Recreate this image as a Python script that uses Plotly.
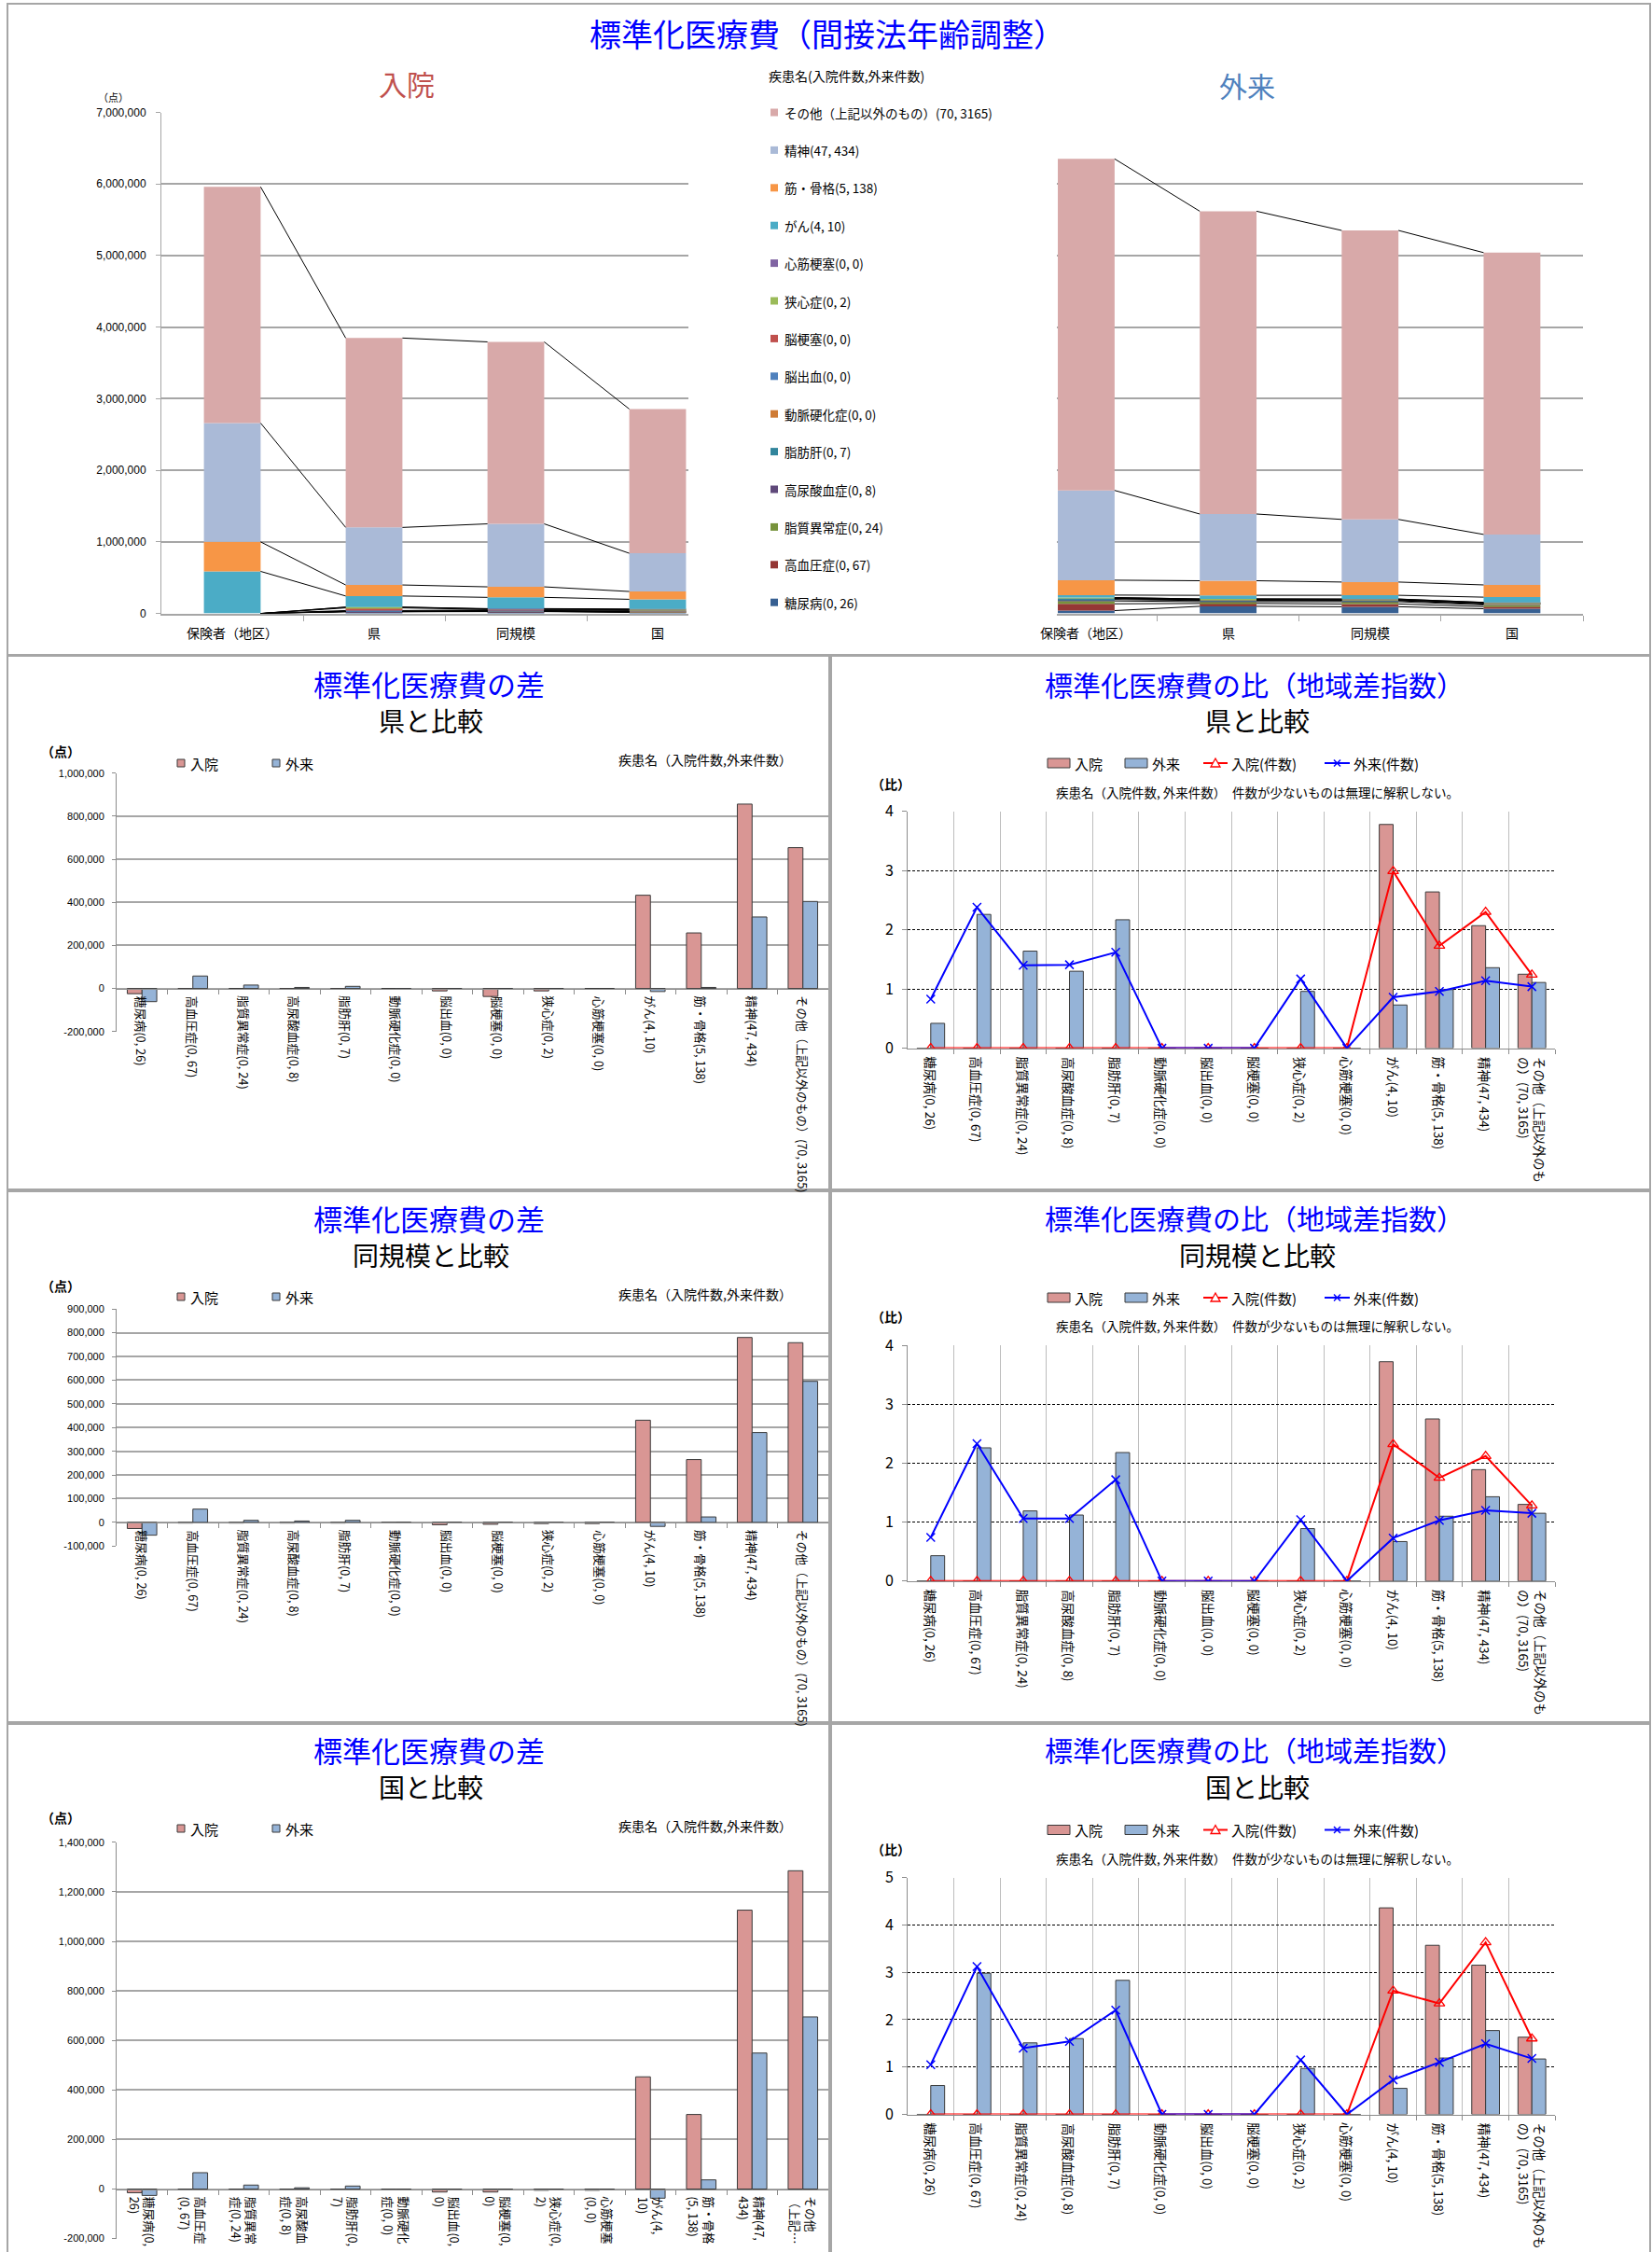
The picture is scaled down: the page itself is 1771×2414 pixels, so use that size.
import plotly.graph_objects as go

W, H = 1771, 2414
FONT = "Noto Sans CJK JP"
NUMFONT = "Liberation Sans"

# ---------------- data ----------------
regions = ["保険者（地区）", "県", "同規模", "国"]
diseases = ["糖尿病", "高血圧症", "脂質異常症", "高尿酸血症", "脂肪肝", "動脈硬化症", "脳出血",
            "脳梗塞", "狭心症", "心筋梗塞", "がん", "筋・骨格", "精神", "その他（上記以外のもの）"]
in_counts = [0, 0, 0, 0, 0, 0, 0, 0, 0, 0, 4, 5, 47, 70]
out_counts = [26, 67, 24, 8, 7, 0, 0, 0, 2, 0, 10, 138, 434, 3165]

# standardized cost (入院) per region, diseases bottom -> top
nyuin_hokensha = [0, 0, 0, 0, 0, 0, 0, 0, 0, 0, 588000, 412000, 1660000, 3300000]
nyuin_ken = [24000, 2000, 0, 2000, 2000, 0, 11000, 37000, 11000, 0, 155000, 154000, 804000, 2646000]
nyuin_doukibo = [26000, 3000, 3000, 3000, 3000, 2000, 10000, 8000, 5000, 5000, 157000, 147000, 880000, 2542000]
nyuin_kuni = [15000, 3000, 3000, 3000, 3000, 2000, 12000, 12000, 5000, 5000, 135000, 109000, 534000, 2015000]
# standardized cost (外来)
gairai_hokensha = [40000, 95000, 40000, 20000, 17000, 0, 0, 0, 10000, 0, 35000, 208000, 1254000, 4632000]
gairai_ken = [100000, 40000, 25000, 15000, 8000, 1500, 1500, 1500, 11000, 0, 50000, 204000, 932000, 4230000]
gairai_doukibo = [94000, 39000, 31000, 14000, 8000, 1000, 1000, 1000, 12000, 1000, 52000, 185000, 875000, 4037000]
gairai_kuni = [66000, 29000, 24000, 15000, 5000, 1500, 1500, 1500, 11000, 1500, 72000, 171000, 705000, 3937000]

# differences
sa_ken_nyuin = [-24000, -2000, 0, -2000, -2000, 0, -11000, -37000, -11000, 0, 433000, 258000, 856000, 654000]
sa_ken_gairai = [-61000, 58000, 16000, 5000, 10000, -1500, -1500, -1500, -1500, 0, -14000, 5000, 332000, 404000]
sa_doukibo_nyuin = [-26000, -3000, -3000, -3000, -3000, -2000, -10000, -8000, -5000, -5000, 431000, 265000, 780000, 758000]
sa_doukibo_gairai = [-54000, 56000, 8600, 5700, 8600, -1000, -1000, -1000, -2000, -1000, -17000, 23000, 379000, 595000]
sa_kuni_nyuin = [-15000, -3000, -3000, -3000, -3000, -2000, -12000, -12000, -5000, -5000, 453000, 301000, 1126000, 1285000]
sa_kuni_gairai = [-26000, 66000, 16000, 5000, 12000, -1500, -1500, -1500, -1500, -1500, -37000, 37000, 549000, 695000]

# ratios
hi_ken_nyuin = [0, 0, 0, 0, 0, 0, 0, 0, 0, 0, 3.78, 2.64, 2.07, 1.25]
hi_ken_gairai = [0.42, 2.26, 1.64, 1.30, 2.17, 0, 0, 0, 0.96, 0, 0.73, 0.99, 1.36, 1.11]
hi_ken_nyuin_kensu = [0, 0, 0, 0, 0, 0, 0, 0, 0, 0, 2.99, 1.73, 2.30, 1.24]
hi_ken_gairai_kensu = [0.83, 2.38, 1.40, 1.41, 1.62, 0, 0, 0, 1.17, 0, 0.86, 0.96, 1.14, 1.04]

hi_doukibo_nyuin = [0, 0, 0, 0, 0, 0, 0, 0, 0, 0, 3.72, 2.75, 1.89, 1.30]
hi_doukibo_gairai = [0.43, 2.26, 1.19, 1.12, 2.18, 0, 0, 0, 0.89, 0, 0.67, 1.10, 1.43, 1.15]
hi_doukibo_nyuin_kensu = [0, 0, 0, 0, 0, 0, 0, 0, 0, 0, 2.32, 1.75, 2.12, 1.28]
hi_doukibo_gairai_kensu = [0.74, 2.33, 1.06, 1.06, 1.72, 0, 0, 0, 1.04, 0, 0.73, 1.03, 1.20, 1.15]

hi_kuni_nyuin = [0, 0, 0, 0, 0, 0, 0, 0, 0, 0, 4.36, 3.57, 3.15, 1.63]
hi_kuni_gairai = [0.61, 2.98, 1.51, 1.60, 2.83, 0, 0, 0, 0.97, 0, 0.55, 1.19, 1.77, 1.17]
hi_kuni_nyuin_kensu = [0, 0, 0, 0, 0, 0, 0, 0, 0, 0, 2.61, 2.34, 3.63, 1.60]
hi_kuni_gairai_kensu = [1.05, 3.12, 1.40, 1.54, 2.20, 0, 0, 0, 1.15, 0, 0.73, 1.10, 1.49, 1.18]

labels_kuni_diff = ["糖尿病(0,<br>26)", "高血圧症<br>(0, 67)", "脂質異常<br>症(0, 24)", "高尿酸血<br>症(0, 8)",
                    "脂肪肝(0,<br>7)", "動脈硬化<br>症(0, 0)", "脳出血(0,<br>0)", "脳梗塞(0,<br>0)",
                    "狭心症(0,<br>2)", "心筋梗塞<br>(0, 0)", "がん(4,<br>10)", "筋・骨格<br>(5, 138)",
                    "精神(47,<br>434)", "その他<br>（上記…"]

# ---------------- styles ----------------
stack_colors = ["#376092", "#953735", "#77933C", "#5F497A", "#31859C", "#CF7B35", "#4F81BD",
                "#C0504D", "#9BBB59", "#8064A2", "#4BACC6", "#F79646", "#AABAD7", "#D8A9A9"]
C_IN = "#D99694"
C_OUT = "#95B3D7"
C_EDGE = "#3A3A3A"
GRID = "#A6A6A6"
AXL = "#8C8C8C"

full_labels = [f"{d}({a}, {b})" for d, a, b in zip(diseases, in_counts, out_counts)]
ratio_labels = full_labels[:-1] + ["その他（上記以外のも<br>の）(70, 3165)"]


def X(px):
    return px / W


def Y(py):
    return 1 - py / H


fig = go.Figure()
layout = dict(width=W, height=H, margin=dict(l=0, r=0, t=0, b=0, pad=0, autoexpand=False),
              paper_bgcolor="white", plot_bgcolor="white", showlegend=False,
              barmode="overlay", font=dict(family=FONT, color="black"))
annotations = []
shapes = []


def ann(text, x, y, size, color="black", xanchor="center", yanchor="middle", xref="paper", yref="paper", **kw):
    annotations.append(dict(text=text, x=x, y=y, xref=xref, yref=yref, xanchor=xanchor, yanchor=yanchor,
                            showarrow=False, font=dict(family=FONT, size=size, color=color), **kw))


def axid(i):
    return ("x" if i == 1 else f"x{i}"), ("y" if i == 1 else f"y{i}")


def axkey(i):
    return ("xaxis" if i == 1 else f"xaxis{i}"), ("yaxis" if i == 1 else f"yaxis{i}")


def fmt(v):
    return f"{int(v):,}"


# ---------------- top stacked charts ----------------
def add_stack(i, region_data, xdom, xrange_, show_y):
    xr, yr = axid(i)
    xk, yk = axkey(i)
    cum = [0, 0, 0, 0]
    tops = []
    for k in range(len(diseases)):
        vals = [region_data[j][k] for j in range(4)]
        fig.add_trace(go.Bar(x=[0, 1, 2, 3], y=vals, base=cum[:], width=0.4, offset=-0.2,
                             marker=dict(color=stack_colors[k], line=dict(width=0)),
                             xaxis=xr, yaxis=yr, hoverinfo="skip"))
        cum = [c + v for c, v in zip(cum, vals)]
        tops.append(cum[:])
    for k in range(len(diseases)):
        xs, ys = [], []
        for j in range(3):
            xs += [j + 0.2, j + 0.8, None]
            ys += [tops[k][j], tops[k][j + 1], None]
        fig.add_trace(go.Scatter(x=xs, y=ys, mode="lines", line=dict(color="black", width=1),
                                 xaxis=xr, yaxis=yr, hoverinfo="skip"))
    ticks = list(range(0, 7000001, 1000000))
    layout[xk] = dict(domain=[X(xdom[0]), X(xdom[1])], range=xrange_, anchor=yr,
                      tickvals=[0.5, 1.5, 2.5, 3.5], ticks="outside", ticklen=6, tickcolor=GRID,
                      showticklabels=False, showline=True, linecolor=GRID, linewidth=2,
                      showgrid=False, zeroline=False, fixedrange=True)
    layout[yk] = dict(domain=[Y(657.6), Y(120.5)], range=[0, 7000000], anchor=xr,
                      tickvals=ticks, ticktext=[fmt(t) for t in ticks],
                      showticklabels=show_y, ticks="outside" if show_y else "", ticklen=5, tickcolor=GRID,
                      tickfont=dict(family=NUMFONT, size=12), ticklabelstandoff=8,
                      showline=show_y, linecolor=GRID, linewidth=1,
                      showgrid=True, gridcolor=GRID, gridwidth=1.5, zeroline=False)
    for j, r in enumerate(regions):
        ann(r, j, Y(678), 14, xref=xr)


add_stack(1, [nyuin_hokensha, nyuin_ken, nyuin_doukibo, nyuin_kuni], (173, 738), [-0.5, 3.217], True)
add_stack(2, [gairai_hokensha, gairai_ken, gairai_doukibo, gairai_kuni], (1132.5, 1697), [-0.21, 3.5], False)

ann("標準化医療費（間接法年齢調整）", X(887), Y(36), 34, color="#0000FF")
ann("入院", X(436), Y(89), 30, color="#C0504D")
ann("外来", X(1337), Y(91), 30, color="#4F81BD")
ann("（点）", X(121), Y(104), 11)
ann("疾患名(入院件数,外来件数)", X(822), Y(81), 14, xanchor="left")
for idx, k in enumerate(range(len(diseases) - 1, -1, -1)):
    yc = 120.5 + idx * 40.4
    shapes.append(dict(type="rect", xref="paper", yref="paper", x0=X(826), x1=X(834), y0=Y(yc + 4), y1=Y(yc - 4),
                       fillcolor=stack_colors[k], line=dict(width=0)))
    ann(full_labels[k], X(839), Y(yc), 13.5, xanchor="left")


# ---------------- difference charts ----------------
def add_diff(i, nyuin, gairai, top, bottom, rng, dtick, labels, sub, ys):
    xr, yr = axid(i)
    xk, yk = axkey(i)
    cats = list(range(len(diseases)))
    fig.add_trace(go.Bar(x=cats, y=nyuin, offset=-0.29, width=0.29,
                         marker=dict(color=C_IN, line=dict(color=C_EDGE, width=1)),
                         xaxis=xr, yaxis=yr, hoverinfo="skip"))
    fig.add_trace(go.Bar(x=cats, y=gairai, offset=0.0, width=0.29,
                         marker=dict(color=C_OUT, line=dict(color=C_EDGE, width=1)),
                         xaxis=xr, yaxis=yr, hoverinfo="skip"))
    zero_px = top + (rng[1] - 0) / (rng[1] - rng[0]) * (bottom - top)
    layout[xk] = dict(domain=[X(125), X(888)], range=[-0.5, 13.5], anchor="free", position=Y(zero_px),
                      tickvals=[k + 0.5 for k in range(13)], ticks="outside", ticklen=5, tickcolor=AXL,
                      showticklabels=False, showline=True, linecolor=AXL, linewidth=1,
                      showgrid=False, zeroline=False)
    tv = list(range(rng[0], rng[1] + 1, dtick))
    layout[yk] = dict(domain=[Y(bottom), Y(top)], range=rng, anchor=xr,
                      tickvals=tv, ticktext=[fmt(t) for t in tv],
                      ticks="outside", ticklen=4, tickcolor=AXL,
                      tickfont=dict(family=NUMFONT, size=11), ticklabelstandoff=6,
                      showline=True, linecolor=AXL, linewidth=1,
                      showgrid=True, gridcolor=GRID, gridwidth=1.5, zeroline=False)
    for k, lab in enumerate(labels):
        ann(lab, k, 0, 12.8, xref=xr, yref=yr, yanchor="top", textangle=90, yshift=-6, align="left")
    t_title, t_sub, t_unit, t_leg, t_note = ys
    ann("標準化医療費の差", X(460), Y(t_title), 31, color="#0000FF")
    ann(sub, X(462), Y(t_sub), 28)
    ann("<b>（点）</b>", X(65), Y(t_unit), 14)
    for x0, col, txt in [(190, C_IN, "入院"), (292, C_OUT, "外来")]:
        shapes.append(dict(type="rect", xref="paper", yref="paper", x0=X(x0), x1=X(x0 + 8),
                           y0=Y(t_leg + 4), y1=Y(t_leg - 4), fillcolor=col, line=dict(color=C_EDGE, width=1)))
        ann(txt, X(x0 + 12), Y(t_leg), 15, xanchor="left")
    ann("疾患名（入院件数,外来件数）", X(756), Y(t_note), 14)


add_diff(3, sa_ken_nyuin, sa_ken_gairai, 828.7, 1105.8, [-200000, 1000000], 200000, full_labels,
         "県と比較", (733, 772, 805, 818, 814))
add_diff(5, sa_doukibo_nyuin, sa_doukibo_gairai, 1403.2, 1657.3, [-100000, 900000], 100000, full_labels,
         "同規模と比較", (1305, 1345, 1378, 1390, 1387))
add_diff(7, sa_kuni_nyuin, sa_kuni_gairai, 1974.8, 2399.6, [-200000, 1400000], 200000, labels_kuni_diff,
         "国と比較", (1875, 1915, 1948, 1960, 1957))


# ---------------- ratio charts ----------------
def add_ratio(i, b_in, b_out, l_in, l_out, top, bottom, ymax, sub, ys):
    xr, yr = axid(i)
    xk, yk = axkey(i)
    cats = list(range(len(diseases)))
    fig.add_trace(go.Bar(x=cats, y=b_in, offset=-0.3, width=0.3,
                         marker=dict(color=C_IN, line=dict(color=C_EDGE, width=1)),
                         xaxis=xr, yaxis=yr, hoverinfo="skip"))
    fig.add_trace(go.Bar(x=cats, y=b_out, offset=0.0, width=0.3,
                         marker=dict(color=C_OUT, line=dict(color=C_EDGE, width=1)),
                         xaxis=xr, yaxis=yr, hoverinfo="skip"))
    fig.add_trace(go.Scatter(x=cats, y=l_in, mode="lines+markers",
                             line=dict(color="#FF0000", width=2),
                             marker=dict(symbol="triangle-up-open", size=10, color="#FF0000",
                                         line=dict(color="#FF0000", width=1.3)),
                             xaxis=xr, yaxis=yr, hoverinfo="skip"))
    fig.add_trace(go.Scatter(x=cats, y=l_out, mode="lines+markers",
                             line=dict(color="#0000FF", width=2),
                             marker=dict(symbol="x-thin", size=9, color="#0000FF",
                                         line=dict(color="#0000FF", width=1.5)),
                             xaxis=xr, yaxis=yr, hoverinfo="skip"))
    layout[xk] = dict(domain=[X(973), X(1667)], range=[-0.5, 13.5], anchor=yr,
                      tickvals=[k + 0.5 for k in range(14)], ticks="outside", ticklen=5, tickcolor=AXL,
                      showticklabels=False, showline=True, linecolor=AXL, linewidth=1,
                      showgrid=True, gridcolor="#BDBDBD", gridwidth=1, zeroline=False)
    layout[yk] = dict(domain=[Y(bottom), Y(top)], range=[0, ymax], anchor=xr,
                      tickvals=list(range(0, ymax + 1)), ticks="outside", ticklen=5, tickcolor=AXL,
                      tickfont=dict(family=FONT, size=16), ticklabelstandoff=6,
                      showline=True, linecolor=AXL, linewidth=1,
                      showgrid=True, gridcolor="#000000", gridwidth=1, griddash="3px,2px", zeroline=False)
    for k, lab in enumerate(ratio_labels):
        ann(lab, k, 0, 13.5, xref=xr, yref=yr, yanchor="top", textangle=90, yshift=-7, align="left")
    t_title, t_sub, t_leg, t_unit, t_note = ys
    ann("標準化医療費の比（地域差指数）", X(1345), Y(t_title), 30, color="#0000FF")
    ann(sub, X(1348), Y(t_sub), 28)
    ann("<b>（比）</b>", X(955), Y(t_unit), 14)
    ann("疾患名（入院件数, 外来件数）　件数が少ないものは無理に解釈しない。", X(1348), Y(t_note), 13.5)
    # legend
    for x0, col, txt in [(1123, C_IN, "入院"), (1206, C_OUT, "外来")]:
        shapes.append(dict(type="rect", xref="paper", yref="paper", x0=X(x0), x1=X(x0 + 24),
                           y0=Y(t_leg + 5), y1=Y(t_leg - 5), fillcolor=col, line=dict(color=C_EDGE, width=1)))
        ann(txt, X(x0 + 27), Y(t_leg), 15, xanchor="left")
    shapes.append(dict(type="line", xref="paper", yref="paper", x0=X(1290), x1=X(1316),
                       y0=Y(t_leg), y1=Y(t_leg), line=dict(color="#FF0000", width=2)))
    tri = f"M {X(1303)},{Y(t_leg - 5)} L {X(1298)},{Y(t_leg + 4)} L {X(1308)},{Y(t_leg + 4)} Z"
    shapes.append(dict(type="path", xref="paper", yref="paper", path=tri, fillcolor="white",
                       line=dict(color="#FF0000", width=1.3)))
    ann("入院(件数)", X(1318), Y(t_leg), 15, xanchor="left")
    shapes.append(dict(type="line", xref="paper", yref="paper", x0=X(1420), x1=X(1447),
                       y0=Y(t_leg), y1=Y(t_leg), line=dict(color="#0000FF", width=2)))
    for dx in (1, -1):
        shapes.append(dict(type="line", xref="paper", yref="paper", x0=X(1433.5 - 3.5 * dx), x1=X(1433.5 + 3.5 * dx),
                           y0=Y(t_leg - 3.5), y1=Y(t_leg + 3.5), line=dict(color="#0000FF", width=1.5)))
    ann("外来(件数)", X(1449), Y(t_leg), 15, xanchor="left")


add_ratio(4, hi_ken_nyuin, hi_ken_gairai, hi_ken_nyuin_kensu, hi_ken_gairai_kensu,
          869.8, 1123.6, 4, "県と比較", (733, 772, 818, 839.5, 849))
add_ratio(6, hi_doukibo_nyuin, hi_doukibo_gairai, hi_doukibo_nyuin_kensu, hi_doukibo_gairai_kensu,
          1442, 1694.8, 4, "同規模と比較", (1305, 1345, 1391, 1411, 1421))
add_ratio(8, hi_kuni_nyuin, hi_kuni_gairai, hi_kuni_nyuin_kensu, hi_kuni_gairai_kensu,
          2012.6, 2266.5, 5, "国と比較", (1875, 1915, 1961.5, 1982, 1992))

# ---------------- panel borders ----------------
BORDER = "#A6A6A6"
for (x0, y0, x1, y1) in [(8, 4, 1769, 702),
                         (8, 703, 889, 1275), (891, 703, 1769, 1275),
                         (8, 1277, 889, 1846), (891, 1277, 1769, 1846),
                         (8, 1848, 889, 2420), (891, 1848, 1769, 2420)]:
    shapes.append(dict(type="rect", xref="paper", yref="paper", x0=X(x0), x1=X(x1), y0=Y(y1), y1=Y(y0),
                       line=dict(color=BORDER, width=2), fillcolor="rgba(0,0,0,0)", layer="below"))

layout["annotations"] = annotations
layout["shapes"] = shapes
fig.update_layout(**layout)
fig.write_html("out.html", config={"displayModeBar": False},
               post_script="document.body.style.margin='0px';document.body.style.overflow='hidden';")
